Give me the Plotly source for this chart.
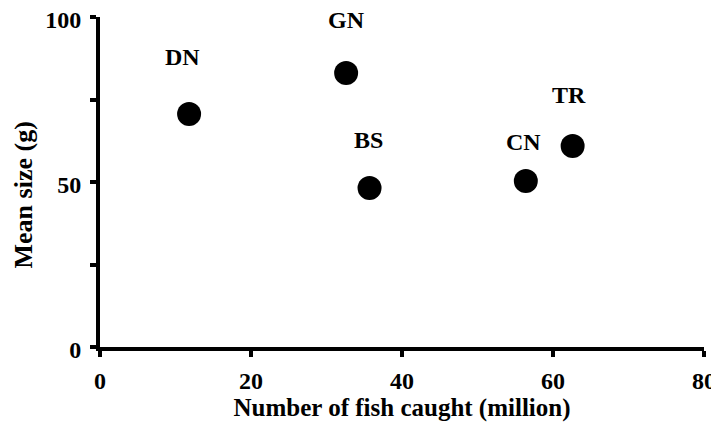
import plotly.graph_objects as go

gears = ["DN", "GN", "BS", "CN", "TR"]
fish_caught = [11.8, 32.6, 35.7, 56.4, 62.6]
mean_size = [70.6, 83.0, 48.2, 50.3, 60.9]
label_shift_y = [57, 53, 48, 39, 51]
label_shift_x = [-7, 0, -1, -2, -4]

x_ticks = [0, 20, 40, 60, 80]
y_ticks = [0, 25, 50, 75, 100]
y_ticktext = ["0", "", "50", "", "100"]

family = "Liberation Serif, Times New Roman, serif"
font = dict(family=family, size=24, color="black")
title_font = dict(family=family, size=25, color="black")

fig = go.Figure()
fig.add_trace(go.Scatter(
    x=fish_caught, y=mean_size, mode="markers",
    marker=dict(size=24, color="black"), cliponaxis=False, showlegend=False,
))
for g, x, y, dy, dx in zip(gears, fish_caught, mean_size, label_shift_y, label_shift_x):
    fig.add_annotation(x=x, y=y, text="<b>%s</b>" % g, showarrow=False,
                       yshift=dy, xshift=dx, font=font)

# y-axis title (sits a little below the axis middle, as in the original)
fig.add_annotation(xref="paper", yref="paper", x=-0.127, y=0.46, text="<b>Mean size (g)</b>",
                   textangle=-90, showarrow=False, font=dict(family=family, size=26, color="black"),
                   xanchor="center", yanchor="middle")

x_ticktext = ["<b>%d</b>" % v for v in x_ticks]

axis_common = dict(showline=True, linecolor="black", linewidth=4, ticks="outside",
                   ticklen=6, tickwidth=4, tickcolor="black", showgrid=False,
                   zeroline=False, tickfont=font, mirror=False, automargin=False,
                   ticklabeloverflow="allow")
fig.update_xaxes(range=[0, 80], tickvals=x_ticks, ticktext=x_ticktext,
                 title=dict(text="<b>Number of fish caught (million)</b>", font=title_font, standoff=2),
                 ticklabelstandoff=3, **axis_common)
fig.update_yaxes(range=[0, 100], tickvals=y_ticks,
                 ticktext=["<b>%s</b>" % t if t else "" for t in y_ticktext],
                 ticklabelstandoff=4, ticklabelshift=3, **axis_common)
fig.update_layout(width=711, height=417, margin=dict(l=92, r=15, t=9, b=78),
                  plot_bgcolor="white", paper_bgcolor="white", font=font)
fig.write_html("out.html")
